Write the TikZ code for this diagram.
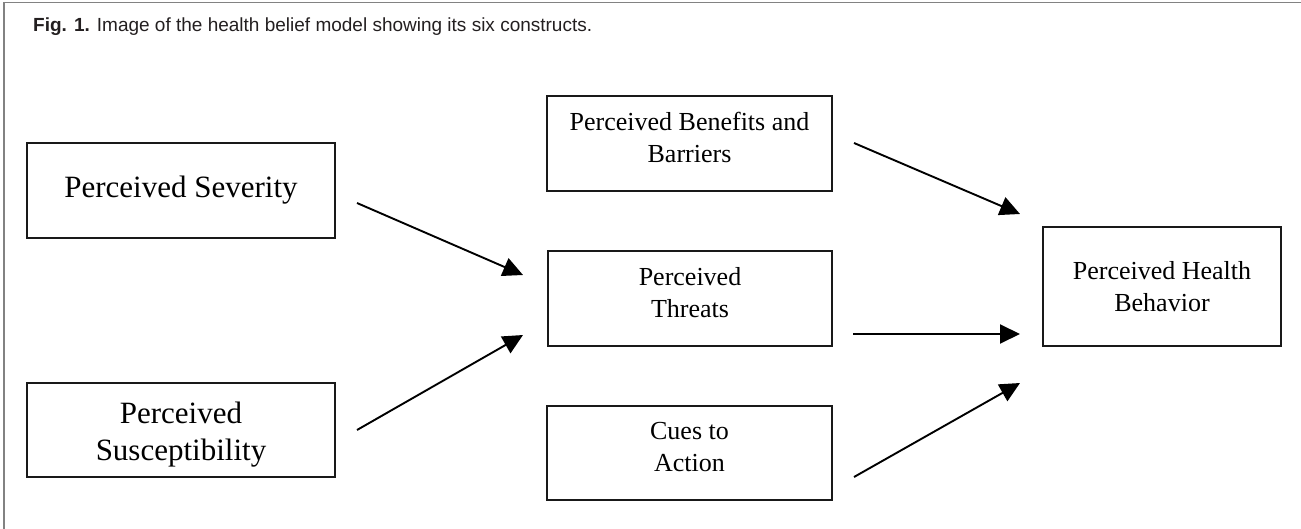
\documentclass[tikz,border=0pt]{standalone}
\usepackage{fontspec}
\setmainfont{Liberation Serif}
\newfontfamily\capfont{Liberation Sans}
\usetikzlibrary{arrows.meta}
\definecolor{framegray}{RGB}{130,130,130}
\definecolor{captext}{RGB}{35,31,32}
\newcommand{\lowpad}{\rule[-12pt]{0pt}{0pt}}
\tikzset{
  box/.style={draw=black!90, line width=1.8pt, align=center, inner sep=0pt, font=\fontsize{26}{32}\selectfont},
  bigbox/.style={box, font=\fontsize{31}{37}\selectfont},
  arr/.style={line width=1.9pt, -{Triangle[length=20pt,width=19pt]}},
}
\begin{document}
\begin{tikzpicture}[x=1pt,y=-1pt]
\useasboundingbox (0,0) rectangle (1301,529);
% frame
\draw[framegray, line width=1.6pt] (4,529) -- (4,2.5) -- (1301,2.5);
% caption
\node[anchor=base west, inner sep=0pt, text=captext, font=\capfont\fontsize{19}{22}\selectfont] (cap) at (33,32) {\textbf{Fig. 1.} Image of the health belief model showing its six constructs.};
% boxes
\node[bigbox, minimum width=308pt, minimum height=95pt] (sev) at (181,190.5) {Perceived Severity};
\node[bigbox, minimum width=308pt, minimum height=94pt] (sus) at (181,430) {\rule{0pt}{30pt}Perceived\\Susceptibility};
\node[box, minimum width=285pt, minimum height=95pt] (ben) at (689.5,143.5) {Perceived Benefits and\\Barriers\lowpad};
\node[box, minimum width=284pt, minimum height=95pt] (thr) at (690,298.5) {Perceived\\Threats\lowpad};
\node[box, minimum width=285pt, minimum height=94pt] (cue) at (689.5,453) {Cues to\\Action\lowpad};
\node[box, minimum width=238pt, minimum height=119pt] (hb) at (1162,286.5) {Perceived Health\\Behavior};
% arrow end points
\coordinate (a1s) at (357,203);  \coordinate (a1e) at (523,275);
\coordinate (a2s) at (357,430);  \coordinate (a2e) at (523,335);
\coordinate (a3s) at (854,143);  \coordinate (a3e) at (1020,214);
\coordinate (a4s) at (853,334);  \coordinate (a4e) at (1020,334);
\coordinate (a5s) at (854,477);  \coordinate (a5e) at (1020,383);
\draw[arr] (a1s) -- (a1e);
\draw[arr] (a2s) -- (a2e);
\draw[arr] (a3s) -- (a3e);
\draw[arr] (a4s) -- (a4e);
\draw[arr] (a5s) -- (a5e);
\end{tikzpicture}
\end{document}
